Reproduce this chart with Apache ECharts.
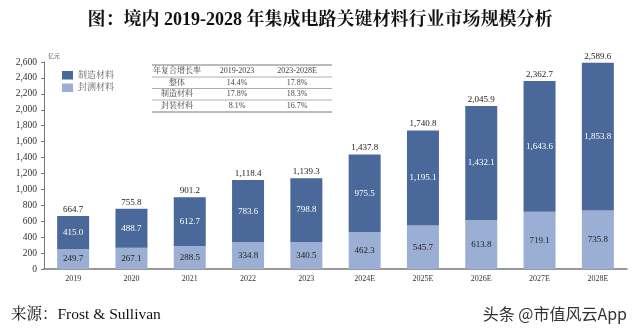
<!DOCTYPE html>
<html><head><meta charset="utf-8">
<script src="https://cdn.jsdelivr.net/npm/echarts@6/dist/echarts.min.js"></script>
<style>html,body{margin:0;padding:0;background:#fff}#c{width:640px;height:328px}</style>
</head><body><div id="c"></div>
<script>
const categories = ['2019','2020','2021','2022','2023','2024E','2025E','2026E','2027E','2028E'];
const packaging = [249.7,267.1,288.5,334.8,340.5,462.3,545.7,613.8,719.1,735.8];
const manufacturing = [415.0,488.7,612.7,783.6,798.8,975.5,1195.1,1432.1,1643.6,1853.8];
const totals = [664.7,755.8,901.2,1118.4,1139.3,1437.8,1740.8,2045.9,2362.7,2589.6];
const seriesNames = ['制造材料','封测材料'];
const tableHeader = ['年复合增长率','2019-2023','2023-2028E'];
const tableRows = [['整体','14.4%','17.8%'],['制造材料','17.8%','18.3%'],['封装材料','8.1%','16.7%']];

const serif = "'Liberation Serif','Noto Serif CJK SC','Noto Sans CJK SC',serif";
const fmt = v => v.toLocaleString('en-US',{minimumFractionDigits:1,maximumFractionDigits:1});
const dark = '#4A6899', light = '#9AAFD3';

const graphic = [];
const tx = 152, tw = 180, colX = [177, 237, 297], lineY = [65, 77, 88.5, 100, 112];
lineY.forEach((y,i)=>graphic.push({type:'line',shape:{x1:tx,y1:y,x2:tx+tw,y2:y},style:{stroke:i===0||i===4?'#777':'#999',lineWidth:i===0||i===4?1:0.8}}));
const rowsAll = [tableHeader].concat(tableRows);
rowsAll.forEach((r,ri)=>{
  const y = (lineY[ri]+lineY[ri+1])/2;
  r.forEach((t,ci)=>graphic.push({type:'text',x:colX[ci],y:y,style:{text:t,font:'8px '+serif,fill:'#444',align:'center',verticalAlign:'middle'}}));
});
seriesNames.forEach((n,i)=>{
  graphic.push({type:'rect',shape:{x:62,y:71+i*12.5,width:11,height:8.5},style:{fill:i===0?dark:light}});
  graphic.push({type:'text',x:78,y:75.5+i*12.5,style:{text:n,font:'9px '+serif,fill:'#666',verticalAlign:'middle'}});
});
graphic.push({type:'text',x:48,y:53,style:{text:'亿元',font:'6px '+serif,fill:'#333'}});
graphic.push({type:'text',x:11,y:315,style:{text:'来源：Frost & Sullivan',font:'15.5px '+serif,fill:'#111',verticalAlign:'middle'}});
graphic.push({type:'text',x:627,y:314,style:{text:'头条 @市值风云App',font:"16px 'Noto Sans CJK SC',sans-serif",fill:'#333',align:'right',verticalAlign:'middle'}});

const chart = echarts.init(document.getElementById('c'));
chart.setOption({
  animation:false,
  title:{text:'图：境内 2019-2028 年集成电路关键材料行业市场规模分析',left:'center',top:6,
    textStyle:{fontFamily:serif,fontWeight:'bold',fontSize:18,color:'#111'}},
  grid:{left:44,right:13,top:62,bottom:59},
  xAxis:{type:'category',data:categories,
    axisLine:{lineStyle:{color:'#777',width:1.5}},axisTick:{show:false},
    axisLabel:{fontFamily:serif,fontSize:8,color:'#333',margin:6}},
  yAxis:{type:'value',min:0,max:2600,interval:200,
    axisLine:{show:true,lineStyle:{color:'#777'}},axisTick:{show:true,length:3,lineStyle:{color:'#777'}},
    splitLine:{show:false},
    axisLabel:{fontFamily:serif,fontSize:9.5,color:'#333',margin:7,formatter:v=>v.toLocaleString('en-US')}},
  series:[
    {name:seriesNames[1],type:'bar',stack:'a',data:packaging,barWidth:32,
      itemStyle:{color:light},
      label:{show:true,position:'inside',fontFamily:serif,fontSize:9,color:'#222',formatter:p=>fmt(p.value)}},
    {name:seriesNames[0],type:'bar',stack:'a',data:manufacturing,barWidth:32,
      itemStyle:{color:dark},
      label:{show:true,position:'inside',fontFamily:serif,fontSize:9,color:'#fff',formatter:p=>fmt(p.value)}},
    {name:'total',type:'bar',stack:'a',data:manufacturing.map(()=>0),barWidth:32,
      itemStyle:{color:'transparent'},
      label:{show:true,position:'top',distance:2,fontFamily:serif,fontSize:9,color:'#222',formatter:p=>fmt(totals[p.dataIndex])}}
  ],
  graphic:graphic
});
</script></body></html>
